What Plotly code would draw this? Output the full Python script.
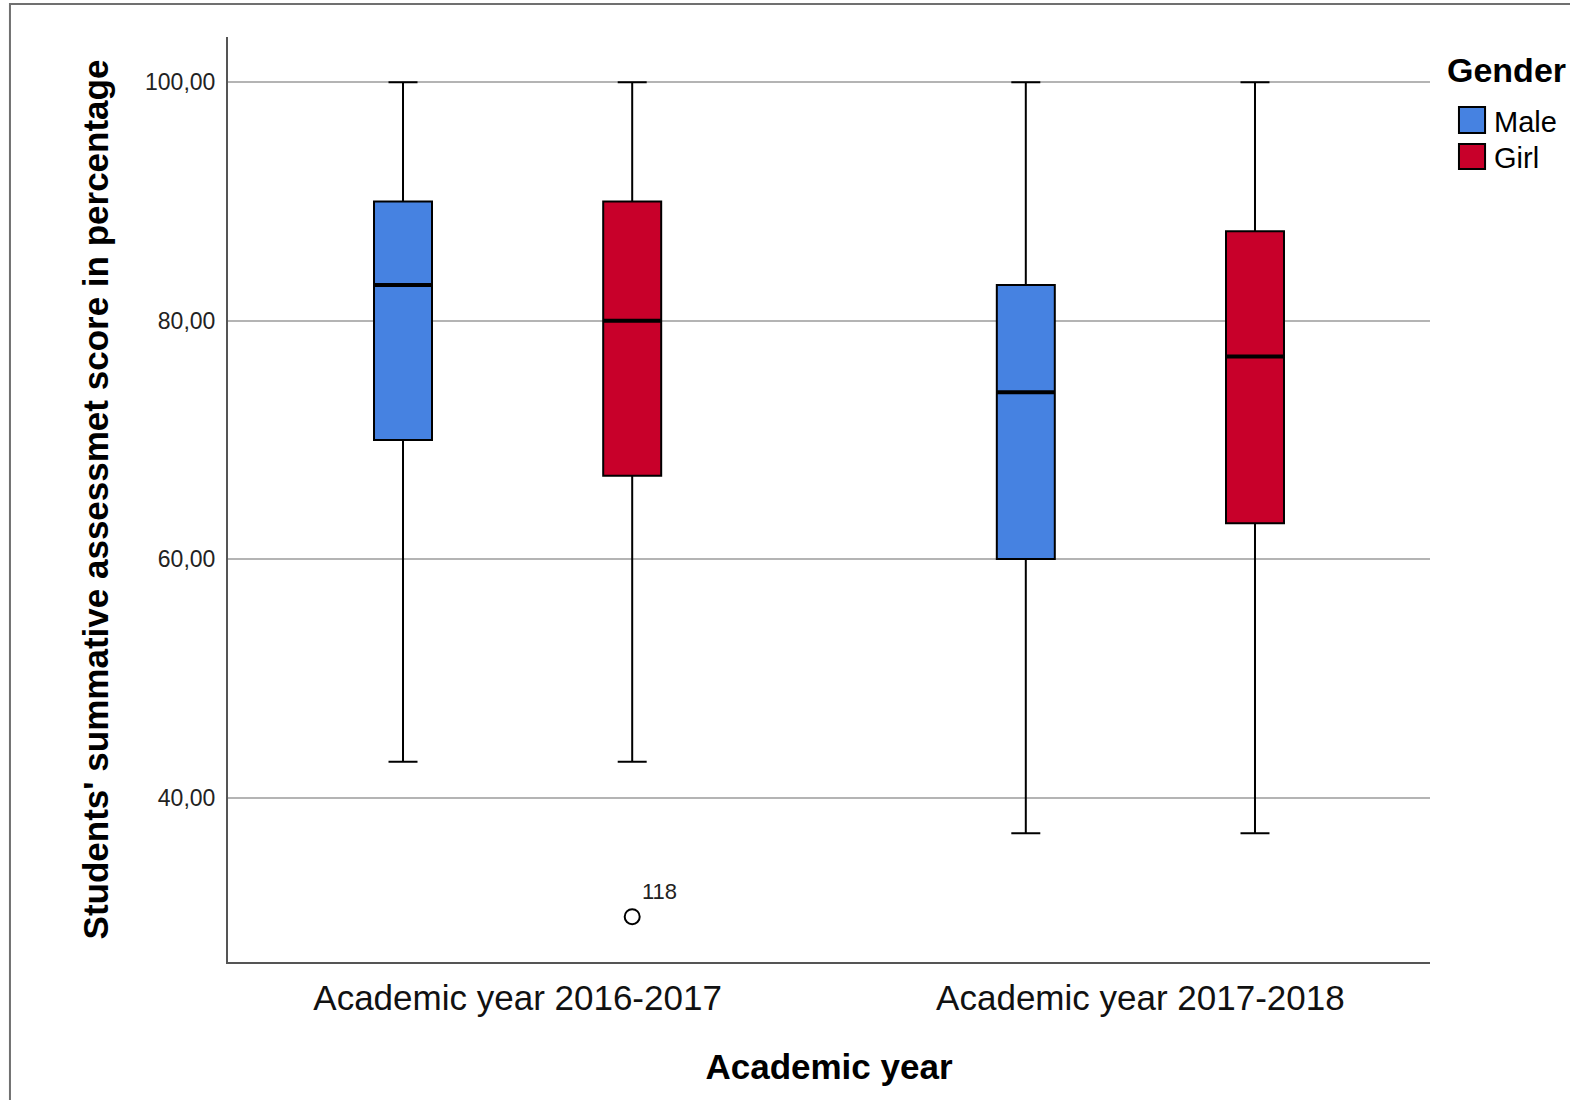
import plotly.graph_objects as go

# Academic years (x categories) and the gender groups
years = ["Academic year 2016-2017", "Academic year 2017-2018"]
genders = ["Male", "Girl"]
colors = {"Male": "#4682E1", "Girl": "#C8002A"}

# Five-number summaries per gender, one value per academic year
male_lower = [43, 37]
male_q1 = [70, 60]
male_median = [83, 74]
male_q3 = [90, 83]
male_upper = [100, 100]

girl_lower = [43, 37]
girl_q1 = [67, 63]
girl_median = [80, 77]
girl_q3 = [90, 87.5]
girl_upper = [100, 100]

# Outlying cases (value, case number) per academic year
girl_outliers = [[30], []]
girl_outlier_ids = ["118"]

y_ticks = [40, 60, 80, 100]
y_tick_text = ["40,00", "60,00", "80,00", "100,00"]

FONT = "Liberation Sans, Arial, sans-serif"

fig = go.Figure()

stats = {
    "Male": (male_lower, male_q1, male_median, male_q3, male_upper, None),
    "Girl": (girl_lower, girl_q1, girl_median, girl_q3, girl_upper, girl_outliers),
}

for g in genders:
    lo, q1, med, q3, up, pts = stats[g]
    kw = dict(
        name=g,
        x=years,
        lowerfence=lo,
        q1=q1,
        median=med,
        q3=q3,
        upperfence=up,
        fillcolor=colors[g],
        line=dict(color="#000000", width=2),
        whiskerwidth=0.5,
        offsetgroup=g,
        showlegend=False,
        hoverinfo="skip",
    )
    if pts is not None:
        kw.update(
            y=pts,
            boxpoints="outliers",
            pointpos=0,
            jitter=0,
            marker=dict(symbol="circle-open", size=15, color="#000000",
                        line=dict(width=2)),
        )
    else:
        kw.update(boxpoints=False)
    fig.add_trace(go.Box(**kw))

# Heavier median bars laid over each box (same slot via offsetgroup)
for g in genders:
    med = stats[g][2]
    fig.add_trace(go.Box(
        name=g + " median",
        x=years,
        lowerfence=med, q1=med, median=med, q3=med, upperfence=med,
        fillcolor="rgba(0,0,0,0)",
        line=dict(color="#000000", width=4),
        whiskerwidth=0,
        offsetgroup=g,
        boxpoints=False,
        showlegend=False,
        hoverinfo="skip",
    ))

# Case number next to the outlier
fig.add_annotation(
    x=years[0], y=girl_outliers[0][0], text=girl_outlier_ids[0],
    showarrow=False, xshift=142, yshift=25,
    font=dict(family=FONT, size=22, color="#222222"),
)

# Legend drawn as swatches and labels to the right of the plot
fig.add_annotation(
    x=1.0125, y=0.9643, xref="paper", yref="paper", xanchor="left",
    yanchor="middle", text="<b>Gender</b>", showarrow=False,
    font=dict(family=FONT, size=34, color="#000000"),
)
legend_rows = [(0.8962, 0.9243, 0.9081), (0.8573, 0.8843, 0.8692)]
for g, (y0, y1, yt) in zip(genders, legend_rows):
    fig.add_shape(
        type="rect", xref="paper", yref="paper",
        x0=1.0241, x1=1.0458, y0=y0, y1=y1,
        fillcolor=colors[g], line=dict(color="#000000", width=2),
    )
    fig.add_annotation(
        x=1.0516, y=yt, xref="paper", yref="paper", xanchor="left",
        yanchor="middle", text=g, showarrow=False,
        font=dict(family=FONT, size=29, color="#000000"),
    )

# Outer frame around the whole figure
fig.add_shape(
    type="rect", xref="paper", yref="paper",
    x0=-0.1814, x1=1.1206, y0=-0.16, y1=1.0357,
    line=dict(color="#707070", width=2), layer="below",
)

fig.update_layout(
    width=1570,
    height=1100,
    margin=dict(l=228, r=140, t=37, b=138),
    paper_bgcolor="#ffffff",
    plot_bgcolor="#ffffff",
    boxmode="group",
    boxgap=0.264,
    boxgroupgap=0.747,
    font=dict(family=FONT, color="#000000"),
)

fig.update_xaxes(
    type="category",
    categoryorder="array",
    categoryarray=years,
    range=[-0.465, 1.465],
    showline=True,
    linecolor="#555555",
    linewidth=2,
    showgrid=False,
    ticks="",
    tickfont=dict(family=FONT, size=35, color="#111111"),
    ticklabelstandoff=4,
    title=dict(text="<b>Academic year</b>", standoff=38,
               font=dict(family=FONT, size=35, color="#000000")),
    zeroline=False,
)

fig.update_yaxes(
    range=[26.2, 103.8],
    tickvals=y_ticks,
    ticktext=y_tick_text,
    showline=True,
    linecolor="#555555",
    linewidth=2,
    showgrid=True,
    gridcolor="#b4b4b4",
    gridwidth=2,
    ticks="",
    tickfont=dict(family=FONT, size=23, color="#222222"),
    ticklabelstandoff=6,
    title=dict(text="<b>Students' summative assessmet score in percentage</b>",
               standoff=26,
               font=dict(family=FONT, size=35, color="#000000")),
    zeroline=False,
)

fig.write_html("out.html")
